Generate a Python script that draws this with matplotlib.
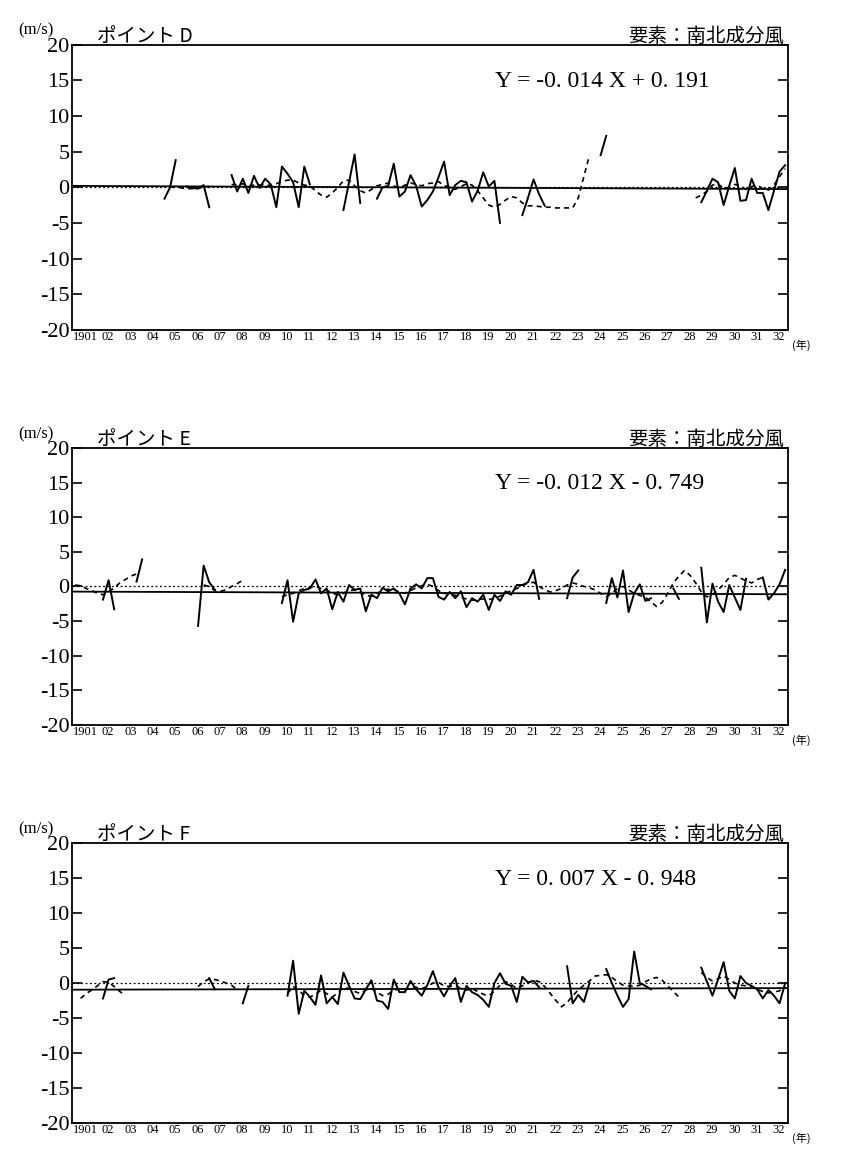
import numpy as np
import matplotlib.pyplot as plt

# quarterly series, index k = 0..127 (1901 Q1 .. 1932 Q4); dict: start index -> values
points = ['ポイント D', 'ポイント E', 'ポイント F']
equations = ['Y = -0. 014 X + 0. 191', 'Y = -0. 012 X - 0. 749', 'Y = 0. 007 X - 0. 948']
slopes = [-0.014, -0.012, 0.007]
intercepts = [0.191, -0.749, -0.948]

solid_d = {
    16: [-1.6, 0.0, 3.8],
    20: [0.1, -0.1, -0.2, 0.3, -2.8],
    28: [1.7, -0.6, 1.2, -0.8, 1.6, -0.1, 1.2, 0.4, -2.8, 2.9, 1.9, 0.7, -2.8, 2.9, 0.4],
    48: [-3.2, 0.7, 4.6, -2.2],
    54: [-1.6, 0.0, 0.2, 3.3, -1.3, -0.6, 1.7, 0.2, -2.7, -1.8, -0.6, 1.4, 3.6, -1.1,
         0.3, 0.9, 0.7, -2.0, -0.5, 2.1, 0.1, 0.9, -5.0],
    80: [-3.9, -1.5, 1.1, -1.0, -2.6],
    94: [4.5, 7.2],
    112: [-2.1, -0.5, 1.2, 0.7, -2.5, 0.2, 2.7, -1.9, -1.8, 1.2, -0.8, -0.8, -3.2, -0.5, 2.2, 3.1],
}
dashed_d = {
    17: [0.0, 0.1, -0.1, -0.2, -0.2, -0.1, 0.0, 0.1],
    28: [0.4, 0.3, 0.5, 0.2, 0.3, 0.3, 0.4, 0.2, 0.5, 0.8, 1.0, 1.0, 0.6, 0.3, 0.2, -0.5,
         -1.1, -1.4, -0.8, 0.0, 0.9, 1.0, 0.2, -0.5, -0.8, -0.3, 0.2, 0.4, 0.6, 0.2, -0.1,
         0.3, 0.6, 0.4, 0.2, 0.5, 0.6, 0.8, 0.2, 0.1, -0.3, 0.1, 0.5, 0.3, -0.5, -1.5, -2.5,
         -2.8, -2.4, -1.8, -1.3, -1.5, -2.2, -2.6, -2.6, -2.7, -2.8, -2.8, -2.9, -2.9, -2.9,
         -2.9, -1.5, 1.5, 4.5],
    111: [-1.5, -1.1, -0.6, 0.3, 0.5, -0.2, 0.0, 0.4, 0.2, -0.3, 0.1, 0.3, -0.2, -0.4, 0.3, 1.5, 2.6],
}

solid_e = {
    5: [-1.9, 0.9, -3.3],
    11: [0.7, 3.9],
    22: [-5.7, 3.0, 0.6, -0.5],
    37: [-2.4, 0.9, -5.1, -1.0, -0.5, -0.3, 1.0, -1.0, -0.3, -3.3, -0.8, -2.2, 0.2, -0.5,
         -0.3, -3.6, -1.2, -1.7, -0.2, -0.7, -0.3, -1.0, -2.6, -0.3, 0.3, -0.3, 1.2, 1.2,
         -1.5, -1.9, -0.8, -1.7, -0.7, -3.0, -1.7, -2.2, -1.2, -3.4, -1.2, -2.1, -0.7, -1.2,
         0.2, 0.2, 0.6, 2.4, -1.8],
    88: [-1.7, 1.3, 2.3],
    95: [-2.4, 1.2, -1.6, 2.3, -3.7, -1.0, 0.3, -2.1, -1.7],
    107: [-0.3, -1.8],
    112: [2.7, -5.2, 0.4, -2.2, -3.7, 0.2, -1.6, -3.4, 1.1],
    123: [1.3, -1.9, -1.0, 0.3, 2.4],
}
dashed_e = {
    0: [0.2, 0.1, -0.3, -0.6, -1.0, -1.2, -0.8, -0.2, 0.5, 1.0, 1.5, 1.8],
    23: [0.2, 0.0, -0.6, -0.7, -0.5, 0.0, 0.4, 0.9],
    37: [-1.5, -1.2, -1.0, -0.6, -0.3, -0.2, 0.0, -0.3, -0.5, -1.0, -1.2, -1.0, -0.6, -0.5,
         -0.8, -1.3, -1.4, -1.0, -0.6, -0.4, -0.5, -0.8, -1.0, -0.6, -0.2, 0.1, 0.3, 0.0,
         -0.6, -1.0, -1.1, -1.3, -1.6, -1.8, -2.0, -1.9, -1.8, -1.9, -1.7, -1.4, -1.0, -0.6,
         -0.3, 0.1, 0.5, 0.6, 0.0, -0.5, -0.8, -0.6, -0.3, 0.2, 0.5, 0.3, 0.0, -0.2, -0.5,
         -1.0, -1.5, -1.0, -0.3, 0.0, -0.5, -1.0, -1.3, -1.6, -2.2, -2.9, -2.3, -1.0, 0.5,
         1.5, 2.3, 1.6, 0.5, -0.8, -1.5, -1.2, -0.5, 0.3, 1.3, 1.6, 1.2, 0.8, 0.5, 1.0, 1.3],
}

solid_f = {
    5: [-2.2, 0.5, 0.7],
    24: [0.7, -0.9],
    30: [-2.9, -0.4],
    38: [-1.8, 3.2, -4.4, -1.1, -2.0, -3.1, 1.1, -2.9, -2.0, -3.0, 1.5, -0.4, -2.2, -2.3,
         -0.9, 0.4, -2.5, -2.7, -3.7, 0.5, -1.3, -1.3, 0.3, -0.9, -1.8, -0.3, 1.7, -0.6,
         -1.9, -0.4, 0.7, -2.7, -0.4, -1.3, -1.7, -2.4, -3.4, 0.0, 1.4, -0.1, -0.4, -2.7,
         0.9, 0.1, 0.3, -0.6],
    88: [2.4, -2.9, -1.7, -2.7, 0.0],
    95: [2.0, 0.0, -1.8, -3.4, -2.3, 4.5, 0.0, -0.4, -0.9],
    112: [2.2, 0.2, -1.8, 0.5, 3.0, -1.1, -2.2, 1.0, 0.0, -0.4, -0.9, -2.2, -1.0, -1.8, -2.9, 0.0],
}
dashed_f = {
    1: [-2.2, -1.5, -1.0, -0.4, 0.2, 0.1, -0.5, -1.2, -1.8],
    22: [-0.5, 0.2, 0.6, 0.5, 0.3, 0.0, -0.3, -1.0],
    38: [-1.5, -0.5, -1.0, -1.8, -2.0, -1.6, -1.0, -1.5, -2.0, -1.4, -0.6, -0.8, -1.2, -1.5,
         -1.0, -0.8, -1.3, -1.8, -1.6, -1.0, -0.9, -1.0, -0.7, -0.6, -0.8, -0.5, 0.0, 0.1,
         -0.4, -0.5, -0.3, -0.8, -1.0, -0.8, -1.2, -1.6, -1.8, -1.2, -0.3, 0.2, -0.2, -0.8,
         -0.4, 0.0, 0.4, 0.2, -0.5, -1.5, -2.5, -3.4, -2.8, -1.8, -1.0, -0.3, 0.3, 1.0, 1.1,
         1.2, 0.8, 0.2, -0.3, -0.4, -0.5, -0.3, 0.2, 0.6, 0.8, 0.4, -0.4, -1.2, -2.0],
    112: [1.5, 0.8, 0.3, 0.6, 1.0, 0.5, 0.0, -0.3, -0.4, -0.5, -0.9, -1.2, -1.4, -1.3, -1.1, -0.5],
}

solids = [solid_d, solid_e, solid_f]
dashes = [dashed_d, dashed_e, dashed_f]
year_labels = ['1901'] + ['%02d' % y for y in range(2, 33)]

JP = ['Noto Sans CJK JP', 'DejaVu Sans']
SERIF = ['Liberation Serif', 'DejaVu Serif']

fig = plt.figure(figsize=(8.5, 11.74), dpi=100)
boxes = [(0.085, 0.719, 0.842, 0.243), (0.085, 0.3825, 0.842, 0.236), (0.085, 0.0434, 0.842, 0.2385)]


def quarter_x(start, n):
    return (np.arange(start, start + n) + 0.5) / 4.0


for i in range(3):
    ax = fig.add_axes(boxes[i])
    for k, vals in dashes[i].items():
        ax.plot(quarter_x(k, len(vals)), vals, color='black', lw=1.2, ls=(0, (3, 2.5)))
    for k, vals in solids[i].items():
        ax.plot(quarter_x(k, len(vals)), vals, color='black', lw=1.4)
    ax.axhline(0, color='black', lw=0.9, ls=(0, (1.5, 2)))
    xs = np.array([0, 32])
    ax.plot(xs, slopes[i] * xs + intercepts[i], color='black', lw=1.3)

    ax.set_xlim(0, 32)
    ax.set_ylim(-20, 20)
    ax.set_yticks(range(-20, 21, 5))
    ax.set_yticklabels([str(v) for v in range(-20, 21, 5)], family=SERIF, fontsize=16)
    ax.set_xticks(np.arange(32) + 0.6)
    ax.set_xticklabels(year_labels, family=SERIF, fontsize=9)
    ax.tick_params(axis='y', direction='in', length=7, right=True, pad=2, width=1.2)
    ax.tick_params(axis='x', length=0, pad=1)
    for s in ax.spines.values():
        s.set_linewidth(1.3)

    ax.text(-0.075, 1.035, '(m/s)', transform=ax.transAxes, family=SERIF, fontsize=12)
    ax.text(0.035, 1.01, points[i], transform=ax.transAxes, family=JP, fontsize=14)
    ax.text(0.995, 1.01, '要素：南北成分風', transform=ax.transAxes, family=JP, fontsize=14, ha='right')
    ax.text(0.59, 0.85, equations[i], transform=ax.transAxes, family=SERIF, fontsize=17)
    ax.text(1.005, -0.035, '(年)', transform=ax.transAxes, family=JP, fontsize=8, va='top')

fig.savefig('out.png', dpi=100, facecolor='white')
